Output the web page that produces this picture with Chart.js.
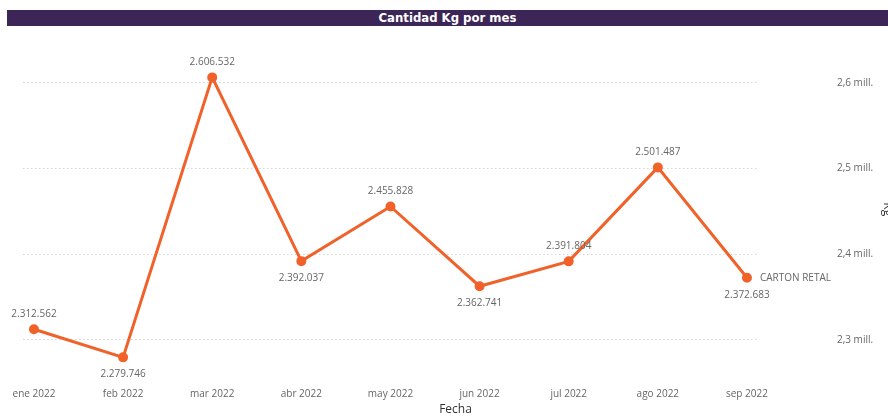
<!DOCTYPE html>
<html lang="es">

<head>
    <meta charset="UTF-8">
    <title>Cantidad Kg por mes</title>
    <script src="https://cdn.jsdelivr.net/npm/chart.js"></script>
    <style>
        body { margin: 0; background: #fff; overflow: hidden; }
        .contenedor { position: relative; width: 888px; height: 417px; }
        canvas { display: block; }
        .titulo {
            position: absolute; left: 7px; right: 0; top: 10px; height: 16px;
            background: #3c2657; color: #fff; text-align: center; line-height: 16px;
            font: bold 13px "DejaVu Sans Condensed", "DejaVu Sans", sans-serif;
        }
    </style>
</head>

<body>
    <div class="contenedor">
        <canvas id="chart" width="888" height="417"></canvas>
        <div class="titulo">Cantidad Kg por mes</div>
    </div>

    <script>
        var meses = ["ene 2022", "feb 2022", "mar 2022", "abr 2022", "may 2022", "jun 2022", "jul 2022", "ago 2022", "sep 2022"];
        var cantidadKg = [2312562, 2279746, 2606532, 2392037, 2455828, 2362741, 2391804, 2501487, 2372683];
        var serie = "CARTON RETAL";
        var ticksKg = [2300000, 2400000, 2500000, 2600000];

        var fuente = '"Segoe UI", "Open Sans", sans-serif';
        var gris = "#666666";

        function formatoMiles(v) {
            return String(v).replace(/\B(?=(\d{3})+(?!\d))/g, ".");
        }

        // etiquetas de valor en cada punto y nombre de la serie al final
        var etiquetas = {
            id: "etiquetas",
            afterDatasetsDraw: function (chart) {
                var ctx = chart.ctx;
                var puntos = chart.getDatasetMeta(0).data;
                ctx.save();
                ctx.font = "10px " + fuente;
                ctx.fillStyle = gris;
                ctx.textAlign = "center";
                ctx.textBaseline = "middle";
                puntos.forEach(function (p, i) {
                    // si baja respecto al mes anterior, la etiqueta va debajo
                    var abajo = i > 0 && cantidadKg[i] < cantidadKg[i - 1];
                    ctx.fillText(formatoMiles(cantidadKg[i]), p.x, abajo ? p.y + 17 : p.y - 15);
                });
                var ultimo = puntos[puntos.length - 1];
                ctx.textAlign = "left";
                ctx.fillText(serie, ultimo.x + 13, ultimo.y);
                ctx.restore();
            }
        };

        var ctx = document.getElementById("chart").getContext("2d");
        new Chart(ctx, {
            type: "line",
            data: {
                datasets: [{
                    label: serie,
                    data: cantidadKg.map(function (v, i) { return { x: i, y: v }; }),
                    borderColor: "#f0622a",
                    backgroundColor: "#f0622a",
                    borderWidth: 3,
                    pointRadius: 3.5,
                    pointHoverRadius: 3.5,
                    tension: 0
                }]
            },
            options: {
                responsive: false,
                animation: false,
                devicePixelRatio: 1,
                layout: { padding: { top: 44, left: 23, right: 0, bottom: 0 } },
                plugins: {
                    legend: { display: false },
                    tooltip: { enabled: false },
                    title: {
                        display: true,
                        text: "Fecha",
                        position: "bottom",
                        padding: 0,
                        color: "#333333",
                        font: { family: fuente, size: 12, weight: "normal" }
                    }
                },
                scales: {
                    x: {
                        type: "linear",
                        min: -0.123,
                        max: 8.135,
                        afterBuildTicks: function (scale) {
                            scale.ticks = meses.map(function (m, i) { return { value: i }; });
                        },
                        afterFit: function (scale) {
                            scale.height = 28;
                            scale.paddingLeft = 0;
                            scale.paddingRight = 0;
                        },
                        grid: { display: false, drawTicks: false },
                        border: { display: false },
                        ticks: {
                            padding: 14,
                            maxRotation: 0,
                            autoSkip: false,
                            color: gris,
                            font: { family: fuente, size: 10 },
                            callback: function (v) { return meses[v]; }
                        }
                    },
                    y: {
                        position: "right",
                        min: 2259600,
                        max: 2645500,
                        afterBuildTicks: function (scale) {
                            scale.ticks = ticksKg.map(function (v) { return { value: v }; });
                        },
                        afterFit: function (scale) {
                            scale.width = 129;
                            scale.paddingTop = 0;
                            scale.paddingBottom = 0;
                        },
                        grid: { color: "#d6d6d6", lineWidth: 1, drawTicks: false },
                        border: { display: false, dash: [1.5, 2.5] },
                        ticks: {
                            padding: 78,
                            color: gris,
                            font: { family: fuente, size: 10 },
                            callback: function (v) {
                                return (v / 1000000).toFixed(1).replace(".", ",") + " mill.";
                            }
                        },
                        title: {
                            display: true,
                            text: "Kg",
                            color: "#333333",
                            padding: { top: -7, bottom: 0 },
                            font: { family: fuente, size: 12 }
                        }
                    }
                }
            },
            plugins: [etiquetas]
        });
    </script>
</body>

</html>
